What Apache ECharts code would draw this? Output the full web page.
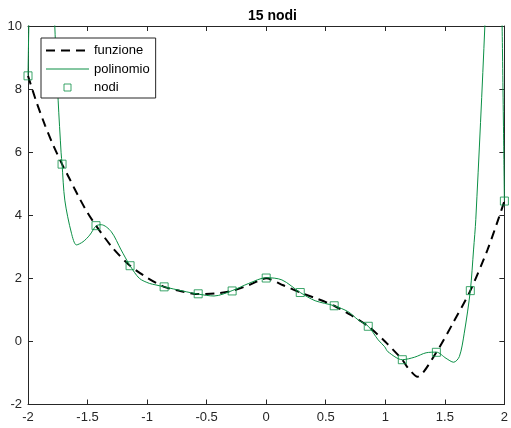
<!DOCTYPE html>
<html>
<head>
<meta charset="utf-8">
<script src="https://cdn.jsdelivr.net/npm/echarts@6/dist/echarts.min.js"></script>
<style>
  html, body { margin: 0; padding: 0; background: #fff; }
  #chart { width: 511px; height: 428px; }
</style>
</head>
<body>
<div id="chart"></div>
<script>
// Interpolation nodes (15 equispaced points on [-2, 2])
const nodeX = [-2, -1.714, -1.429, -1.143, -0.857, -0.571, -0.286, 0, 0.286, 0.571, 0.857, 1.143, 1.429, 1.714, 2];
const nodeY = [8.42, 5.62, 3.67, 2.40, 1.73, 1.51, 1.60, 2.01, 1.55, 1.13, 0.48, -0.58, -0.345, 1.61, 4.45];

// Original function, sampled
const funcX = [-2, -1.93, -1.857, -1.786, -1.714, -1.649, -1.571, -1.5, -1.429, -1.286, -1.143, -1.0, -0.857, -0.714, -0.571, -0.43, -0.286, -0.143, 0, 0.143, 0.286, 0.43, 0.571, 0.714, 0.857, 1.0, 1.143, 1.19, 1.27, 1.429, 1.571, 1.714, 1.858, 1.956, 2];
const funcY = [8.42, 7.6, 6.85, 6.2, 5.62, 5.14, 4.56, 4.08, 3.67, 2.95, 2.40, 2.02, 1.73, 1.59, 1.50, 1.52, 1.60, 1.79, 2.0, 1.78, 1.55, 1.35, 1.13, 0.83, 0.48, -0.01, -0.58, -0.84, -1.12, -0.345, 0.6, 1.61, 2.90, 3.95, 4.45];

// Interpolating polynomial of degree 14, sampled (values above 10 are clipped by the axes)
const polyX = [-2, -1.993, -1.98, -1.88, -1.79, -1.775, -1.747, -1.722, -1.714, -1.691, -1.635, -1.593, -1.538, -1.482, -1.429, -1.385, -1.301, -1.218, -1.143, -1.065, -0.981, -0.925, -0.857, -0.703, -0.571, -0.438, -0.286, -0.146, 0, 0.132, 0.286, 0.411, 0.571, 0.689, 0.773, 0.857, 0.94, 0.995, 1.023, 1.143, 1.246, 1.343, 1.429, 1.51, 1.574, 1.622, 1.663, 1.714, 1.741, 1.760, 1.836, 1.85, 1.91, 1.97, 1.981, 2];
const polyY = [8.42, 10, 12, 22, 12, 10, 7.65, 5.98, 5.62, 4.48, 3.43, 3.06, 3.16, 3.37, 3.66, 3.70, 3.48, 2.90, 2.40, 2.0, 1.84, 1.79, 1.73, 1.60, 1.50, 1.44, 1.61, 1.84, 2.02, 1.95, 1.55, 1.29, 1.13, 0.94, 0.68, 0.48, 0.05, -0.17, -0.33, -0.58, -0.50, -0.36, -0.34, -0.535, -0.66, -0.48, 0.26, 1.61, 2.90, 3.87, 10, 12, 20, 12, 10, 4.45];

const titleText = '15 nodi';
const seriesNames = ['funzione', 'polinomio', 'nodi'];

const GREEN = '#0b8f45';
const AXIS = '#262626';
const FONT = 'Liberation Sans, Arial, Helvetica, sans-serif';
const CLEAR = 'rgba(0,0,0,0)';

const zip = (xs, ys) => xs.map((x, i) => [x, ys[i]]);

const chart = echarts.init(document.getElementById('chart'), null, { renderer: 'canvas' });

const axisCommon = {
  axisLine: { show: true, onZero: false, lineStyle: { color: AXIS, width: 1 } },
  axisTick: { show: true, inside: true, length: 5, lineStyle: { color: AXIS, width: 1 } },
  splitLine: { show: false }
};

chart.setOption({
  animation: false,
  backgroundColor: '#fff',
  title: {
    text: titleText,
    left: 267.5,
    textAlign: 'center',
    top: 4,
    textStyle: { fontFamily: FONT, fontSize: 14, fontWeight: 'bold', color: '#000' }
  },
  grid: { left: 28, right: 4, top: 26, bottom: 23.5, containLabel: false },
  xAxis: [
    Object.assign({
      type: 'value', min: -2, max: 2, interval: 0.5, position: 'bottom',
      axisLabel: { fontFamily: FONT, fontSize: 13, color: AXIS, margin: 6 }
    }, axisCommon),
    Object.assign({
      type: 'value', min: -2, max: 2, interval: 0.5, position: 'top',
      axisLabel: { show: false }
    }, axisCommon)
  ],
  yAxis: [
    Object.assign({
      type: 'value', min: -2, max: 10, interval: 2, position: 'left',
      axisLabel: { fontFamily: FONT, fontSize: 13, color: AXIS, margin: 6 }
    }, axisCommon),
    Object.assign({
      type: 'value', min: -2, max: 10, interval: 2, position: 'right',
      axisLabel: { show: false }
    }, axisCommon)
  ],
  legend: {
    orient: 'vertical',
    left: 41,
    top: 38,
    backgroundColor: '#fff',
    borderColor: AXIS,
    borderWidth: 1,
    borderRadius: 0,
    padding: [6, 6, 4, 4],
    itemWidth: 43,
    itemHeight: 7,
    itemGap: 5.5,
    symbolKeepAspect: true,
    z: 10,
    textStyle: { fontFamily: FONT, fontSize: 13, color: '#000' },
    data: [
      { name: seriesNames[0], itemStyle: { color: CLEAR, borderColor: CLEAR, borderWidth: 0 }, lineStyle: { width: 2 } },
      { name: seriesNames[1], itemStyle: { color: CLEAR, borderColor: CLEAR, borderWidth: 0 }, lineStyle: { width: 1 } },
      { name: seriesNames[2], icon: 'path://M0,0L8,0L8,8L0,8Z', itemStyle: { color: CLEAR, borderColor: GREEN, borderWidth: 1 } }
    ]
  },
  series: [
    {
      name: seriesNames[0],
      type: 'line',
      data: zip(funcX, funcY),
      showSymbol: false,
      symbol: 'none',
      smooth: 0.25,
      clip: true,
      lineStyle: { color: '#000', width: 2, type: [9, 6] },
      itemStyle: { color: '#000' },
      z: 2
    },
    {
      name: seriesNames[1],
      type: 'line',
      data: zip(polyX, polyY),
      showSymbol: false,
      symbol: 'none',
      smooth: 0.3,
      clip: true,
      lineStyle: { color: GREEN, width: 1 },
      itemStyle: { color: GREEN },
      z: 3
    },
    {
      name: seriesNames[2],
      type: 'scatter',
      data: zip(nodeX, nodeY),
      symbol: 'rect',
      symbolSize: 8,
      clip: false,
      itemStyle: { color: CLEAR, borderColor: GREEN, borderWidth: 1 },
      z: 4
    }
  ]
});
</script>
</body>
</html>
